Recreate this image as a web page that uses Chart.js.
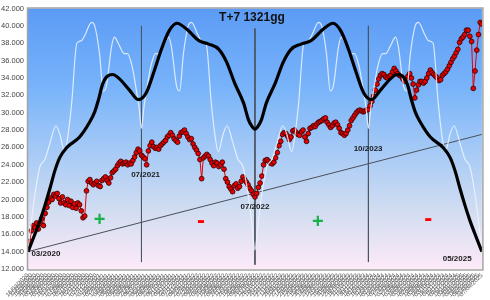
<!DOCTYPE html>
<html>
<head>
<meta charset="utf-8">
<script src="https://cdn.jsdelivr.net/npm/chart.js@4.4.1/dist/chart.umd.min.js"></script>
<style>
  html, body { margin: 0; padding: 0; background: #fff; }
  #wrap { width: 490px; height: 300px; }
</style>
</head>
<body>
<div id="wrap"><canvas id="cycleChart" width="490" height="300"></canvas></div>
<script>
// ---- data (x = trading day index) ----
const TITLE = "T+7 1321gg";
const START_DATE = "2020-03-16";
const LAST_DAY = 1320;
const LABEL_STEP = 11;

// closes sampled every PRICE_STEP trading days
const PRICE_STEP = 5;
const priceValues = [
  14.5, 15.2, 16.4, 17.0, 16.8, 17.3, 16.6, 17.2, 17.8, 17.0,
  18.4, 19.1, 19.7, 20.2, 20.0, 20.6, 20.4, 20.7, 20.1, 19.6,
  20.3, 19.6, 19.4, 20.0, 19.3, 19.8, 19.1, 19.5, 19.0, 19.6,
  19.4, 18.7, 17.9, 18.1, 21.0, 22.1, 22.3, 21.9, 21.7, 21.9,
  22.1, 21.6, 21.5, 22.2, 22.4, 22.6, 22.2, 21.9, 22.5, 23.1,
  23.3, 23.5, 23.9, 24.2, 24.4, 24.1, 24.2, 24.3, 24.0, 24.2,
  24.1, 24.5, 24.9, 25.4, 25.8, 25.6, 25.1, 24.9, 24.7, 24.0,
  25.6, 26.2, 26.6, 26.1, 25.9, 26.0, 25.8, 26.2, 26.4, 26.6,
  26.8, 27.2, 27.4, 27.7, 27.4, 27.0, 26.8, 26.6, 27.3, 27.7,
  27.8, 28.0, 27.6, 27.2, 26.9, 27.0, 26.4, 26.0, 25.7, 25.3,
  24.6, 22.4, 24.8, 25.0, 25.2, 25.0, 24.6, 24.2, 23.9, 24.3,
  24.2, 23.8, 24.0, 24.3, 23.5, 22.4, 22.0, 21.5, 21.2, 20.9,
  21.6, 21.8, 21.3, 21.5, 22.1, 22.6, 22.3, 22.0, 21.7, 21.3,
  21.0, 20.6, 20.3, 20.7, 21.4, 21.9, 22.7, 24.0, 24.5, 24.6,
  24.4, 24.2, 24.1, 24.3, 24.8, 25.4, 26.2, 26.7, 27.5, 27.7,
  27.6, 27.3, 26.9, 27.2, 27.9, 28.0, 27.7, 27.5, 27.4, 27.8,
  28.0, 27.2, 26.7, 27.6, 28.2, 28.3, 28.5, 28.4, 28.7, 28.9,
  29.0, 29.1, 29.3, 29.4, 28.9, 28.6, 28.3, 28.5, 28.8, 28.9,
  28.6, 28.2, 27.7, 27.6, 27.4, 27.6, 28.0, 28.5, 29.1, 29.4,
  29.7, 30.0, 30.2, 30.3, 30.2, 30.1, 30.2, 30.3, 30.4, 30.8,
  31.3, 31.9, 32.6, 33.3, 33.9, 34.3, 34.5, 34.4, 34.1, 34.0,
  34.2, 34.3, 34.7, 35.1, 34.8, 34.5, 34.3, 34.2, 33.9, 33.6,
  33.8, 34.2, 34.5, 34.0, 33.3, 31.7, 32.6, 33.2, 33.6, 33.6,
  33.4, 33.6, 34.0, 34.5, 34.9, 34.6, 34.4, 34.2, 34.0, 33.7,
  33.8, 34.3, 34.5, 34.7, 35.0, 35.4, 35.8, 36.2, 36.5, 36.9,
  37.3, 38.1, 38.5, 38.7, 39.0, 39.5, 39.5, 38.8, 38.2, 32.8,
  34.8, 37.2, 39.0, 40.4, 40.2
];

// main cycle (thick black)
const cycleDays = [
  0, 14, 35, 49, 64, 78, 92, 113, 150, 179, 194, 205, 217, 228, 246, 266,
  295, 321, 344, 367, 387, 410, 433, 462, 497, 526, 555, 578, 601, 627, 641, 650,
  660, 670, 679, 693, 719, 742, 765, 794, 823, 858, 887, 910, 933, 953, 976, 999,
  1025, 1054, 1074, 1092, 1103, 1115, 1126, 1141, 1170, 1207, 1228, 1242, 1256, 1271, 1285, 1306, 1320
];
const cycleValues = [
  14.0, 15.4, 17.6, 19.3, 21.3, 23.3, 24.8, 26.0, 27.2, 28.9, 30.1, 31.5, 33.3, 34.1, 34.4, 33.9,
  32.6, 31.5, 32.3, 34.8, 37.2, 39.4, 40.3, 39.6, 38.3, 37.9, 37.3, 35.8, 33.4, 31.1, 29.2, 28.5,
  28.1, 28.5, 29.2, 31.1, 33.4, 35.8, 37.3, 37.9, 38.3, 39.6, 40.3, 39.4, 37.2, 34.8, 32.3, 31.5,
  32.6, 33.9, 34.4, 34.1, 33.3, 31.5, 30.1, 28.9, 27.2, 26.0, 24.8, 23.3, 21.3, 19.3, 17.6, 15.4, 14.0
];

// faster cycle (thin white)
const waveDays = [
  0, 9, 20, 35, 49, 64, 81, 92, 107, 116, 127, 142, 156, 165, 185, 194, 208, 219, 228, 243,
  251, 266, 280, 289, 303, 315, 323,
  330, 337, 345, 357, 371, 380, 394, 409, 417, 432, 441, 452, 466, 475, 495, 504, 518, 533,
  544, 553, 568, 579, 596, 611, 625, 640, 651,
  660, 669, 680, 695, 709, 724, 741, 752, 767, 776, 787, 802, 816, 825, 845, 854, 868, 879,
  888, 903, 911, 926, 940, 949, 963, 975, 983,
  990, 997, 1005, 1017, 1031, 1040, 1054, 1069, 1077, 1092, 1101, 1112, 1126, 1135, 1155, 1164,
  1178, 1193, 1204, 1213, 1228, 1239, 1256, 1271, 1285, 1300, 1311, 1320
];
const waveValues = [
  14.2, 17.2, 20.6, 23.8, 24.6, 26.5, 28.5, 27.6, 25.5, 27.3, 31.1, 38.0, 38.3, 38.9, 40.4, 40.0, 36.8, 32.5, 33.1, 37.6,
  38.7, 37.7, 36.8, 36.8, 35.3, 32.6, 30.6,
  28.2, 30.6, 32.6, 35.3, 36.8, 36.8, 37.7, 38.7, 37.6, 33.1, 32.5, 36.8, 40.0, 40.4, 38.9, 38.3, 38.0, 31.1,
  27.3, 25.5, 27.6, 28.5, 26.5, 24.6, 23.8, 20.6, 17.2,
  14.2, 17.2, 20.6, 23.8, 24.6, 26.5, 28.5, 27.6, 25.5, 27.3, 31.1, 38.0, 38.3, 38.9, 40.4, 40.0, 36.8, 32.5,
  33.1, 37.6, 38.7, 37.7, 36.8, 36.8, 35.3, 32.6, 30.6,
  28.2, 30.6, 32.6, 35.3, 36.8, 36.8, 37.7, 38.7, 37.6, 33.1, 32.5, 36.8, 40.0, 40.4, 38.9, 38.3,
  38.0, 31.1, 27.3, 25.5, 27.6, 28.5, 26.5, 24.6, 23.8, 20.6, 17.2, 14.2
];

const trendDays = [0, 1320];
const trendValues = [14.0, 27.5];

const markerDays = [330, 660, 990];
const markerTop = [40.0, 39.7, 40.0];
const markerBottom = [12.8, 12.5, 12.8];

const noteTexts = ["03/2020", "07/2021", "07/2022", "10/2023", "05/2025"];
const noteDays = [52, 342, 660, 989, 1248];
const noteValues = [13.7, 22.9, 19.2, 25.9, 13.2];

const signTexts = ["+", "-", "+", "-"];
const signDays = [208, 503, 843, 1164];
const signValues = [17.6, 17.5, 17.4, 17.7];

// ---- tick labels: trading-day calendar ----
function tradingDates(start, count) {
  const out = [];
  const d = new Date(start + "T12:00:00");
  while (out.length < count) {
    const wd = d.getDay();
    if (wd !== 0 && wd !== 6) {
      const dd = String(d.getDate()).padStart(2, "0");
      const mm = String(d.getMonth() + 1).padStart(2, "0");
      out.push(dd + "/" + mm + "/" + d.getFullYear());
    }
    d.setDate(d.getDate() + 1);
  }
  return out;
}
const dayLabels = tradingDates(START_DATE, LAST_DAY + 1);

// ---- plugins ----
const FONT = "Arial, 'Liberation Sans', sans-serif";

const backdrop = {
  id: "backdrop",
  beforeDraw(chart) {
    const { ctx, chartArea: a } = chart;
    ctx.save();
    ctx.fillStyle = "#ffffff";
    ctx.fillRect(0, 0, chart.width, chart.height);
    const g = ctx.createLinearGradient(0, a.top, 0, a.bottom);
    g.addColorStop(0, "#5b9bf5");
    g.addColorStop(0.3, "#78b3fa");
    g.addColorStop(0.55, "#a6caf6");
    g.addColorStop(0.78, "#d2ddf1");
    g.addColorStop(1, "#fdeaf8");
    ctx.fillStyle = g;
    ctx.fillRect(a.left, a.top, a.right - a.left, a.bottom - a.top);
    ctx.restore();
  },
  afterDraw(chart) {
    const { ctx, chartArea: a, scales } = chart;
    ctx.save();
    ctx.strokeStyle = "#a4a4a4";
    ctx.lineWidth = 1.5;
    ctx.strokeRect(a.left - 0.5, a.top - 0.5, a.right - a.left + 1.5, a.bottom - a.top + 1.5);

    ctx.textAlign = "center";
    ctx.textBaseline = "middle";
    ctx.fillStyle = "#111";
    ctx.font = "bold 12px " + FONT;
    ctx.fillText(TITLE, (a.left + a.right) / 2 - 3, a.top + 9);

    ctx.fillStyle = "#1a1a1a";
    ctx.font = "bold 8px " + FONT;
    noteTexts.forEach((t, i) => {
      ctx.fillText(t, scales.x.getPixelForValue(noteDays[i]), scales.y.getPixelForValue(noteValues[i]));
    });

    signTexts.forEach((t, i) => {
      const plus = t === "+";
      ctx.fillStyle = plus ? "#17b24a" : "#ff0000";
      ctx.font = (plus ? "bold 20px " : "bold 24px ") + FONT;
      ctx.fillText(t, scales.x.getPixelForValue(signDays[i]), scales.y.getPixelForValue(signValues[i]));
    });
    ctx.restore();
  },
};

const toXY = (days, vals) => days.map((d, i) => ({ x: d, y: vals[i] }));

const markerSets = markerDays.map((d, i) => ({
  data: [{ x: d, y: markerTop[i] }, { x: d, y: markerBottom[i] }],
  borderColor: "#4c5560",
  borderWidth: 1,
  pointRadius: 0,
}));

new Chart(document.getElementById("cycleChart"), {
  type: "line",
  data: {
    datasets: [
      {
        data: toXY(cycleDays, cycleValues),
        borderColor: "#000",
        borderWidth: 3.2,
        pointRadius: 0,
        cubicInterpolationMode: "monotone",
      },
      {
        data: toXY(waveDays, waveValues),
        borderColor: "rgba(236,244,255,0.85)",
        borderWidth: 1.2,
        pointRadius: 0,
        cubicInterpolationMode: "monotone",
      },
      {
        data: priceValues.map((v, i) => ({ x: i * PRICE_STEP, y: v })),
        borderColor: "#e00000",
        borderWidth: 1,
        pointRadius: 2.4,
        pointBackgroundColor: "#e80000",
        pointBorderColor: "#2e0000",
        pointBorderWidth: 0.8,
        tension: 0,
      },
      ...markerSets,
      {
        data: toXY(trendDays, trendValues),
        borderColor: "#4a5058",
        borderWidth: 1,
        pointRadius: 0,
      },
    ],
  },
  options: {
    responsive: false,
    animation: false,
    events: [],
    layout: { padding: { top: 4, right: 5, left: 0, bottom: 0 } },
    plugins: { legend: { display: false }, tooltip: { enabled: false }, title: { display: false } },
    scales: {
      x: {
        type: "linear",
        min: 0,
        max: LAST_DAY,
        grid: { display: false, drawTicks: false },
        border: { display: false },
        afterFit: (s) => { s.height = 31; },
        ticks: {
          stepSize: LABEL_STEP,
          autoSkip: false,
          maxTicksLimit: 500,
          minRotation: 45,
          maxRotation: 45,
          padding: 3,
          color: "#555",
          font: { size: 6, family: FONT },
          callback: (v) => dayLabels[v] || "",
        },
      },
      y: {
        min: 12,
        max: 42,
        grid: { display: false, drawTicks: false },
        border: { display: false },
        afterFit: (s) => { s.width = 28; },
        ticks: {
          stepSize: 2,
          padding: 4,
          color: "#444",
          font: { size: 7.5, family: FONT },
          callback: (v) => v.toFixed(3),
        },
      },
    },
  },
  plugins: [backdrop],
});
</script>
</body>
</html>
